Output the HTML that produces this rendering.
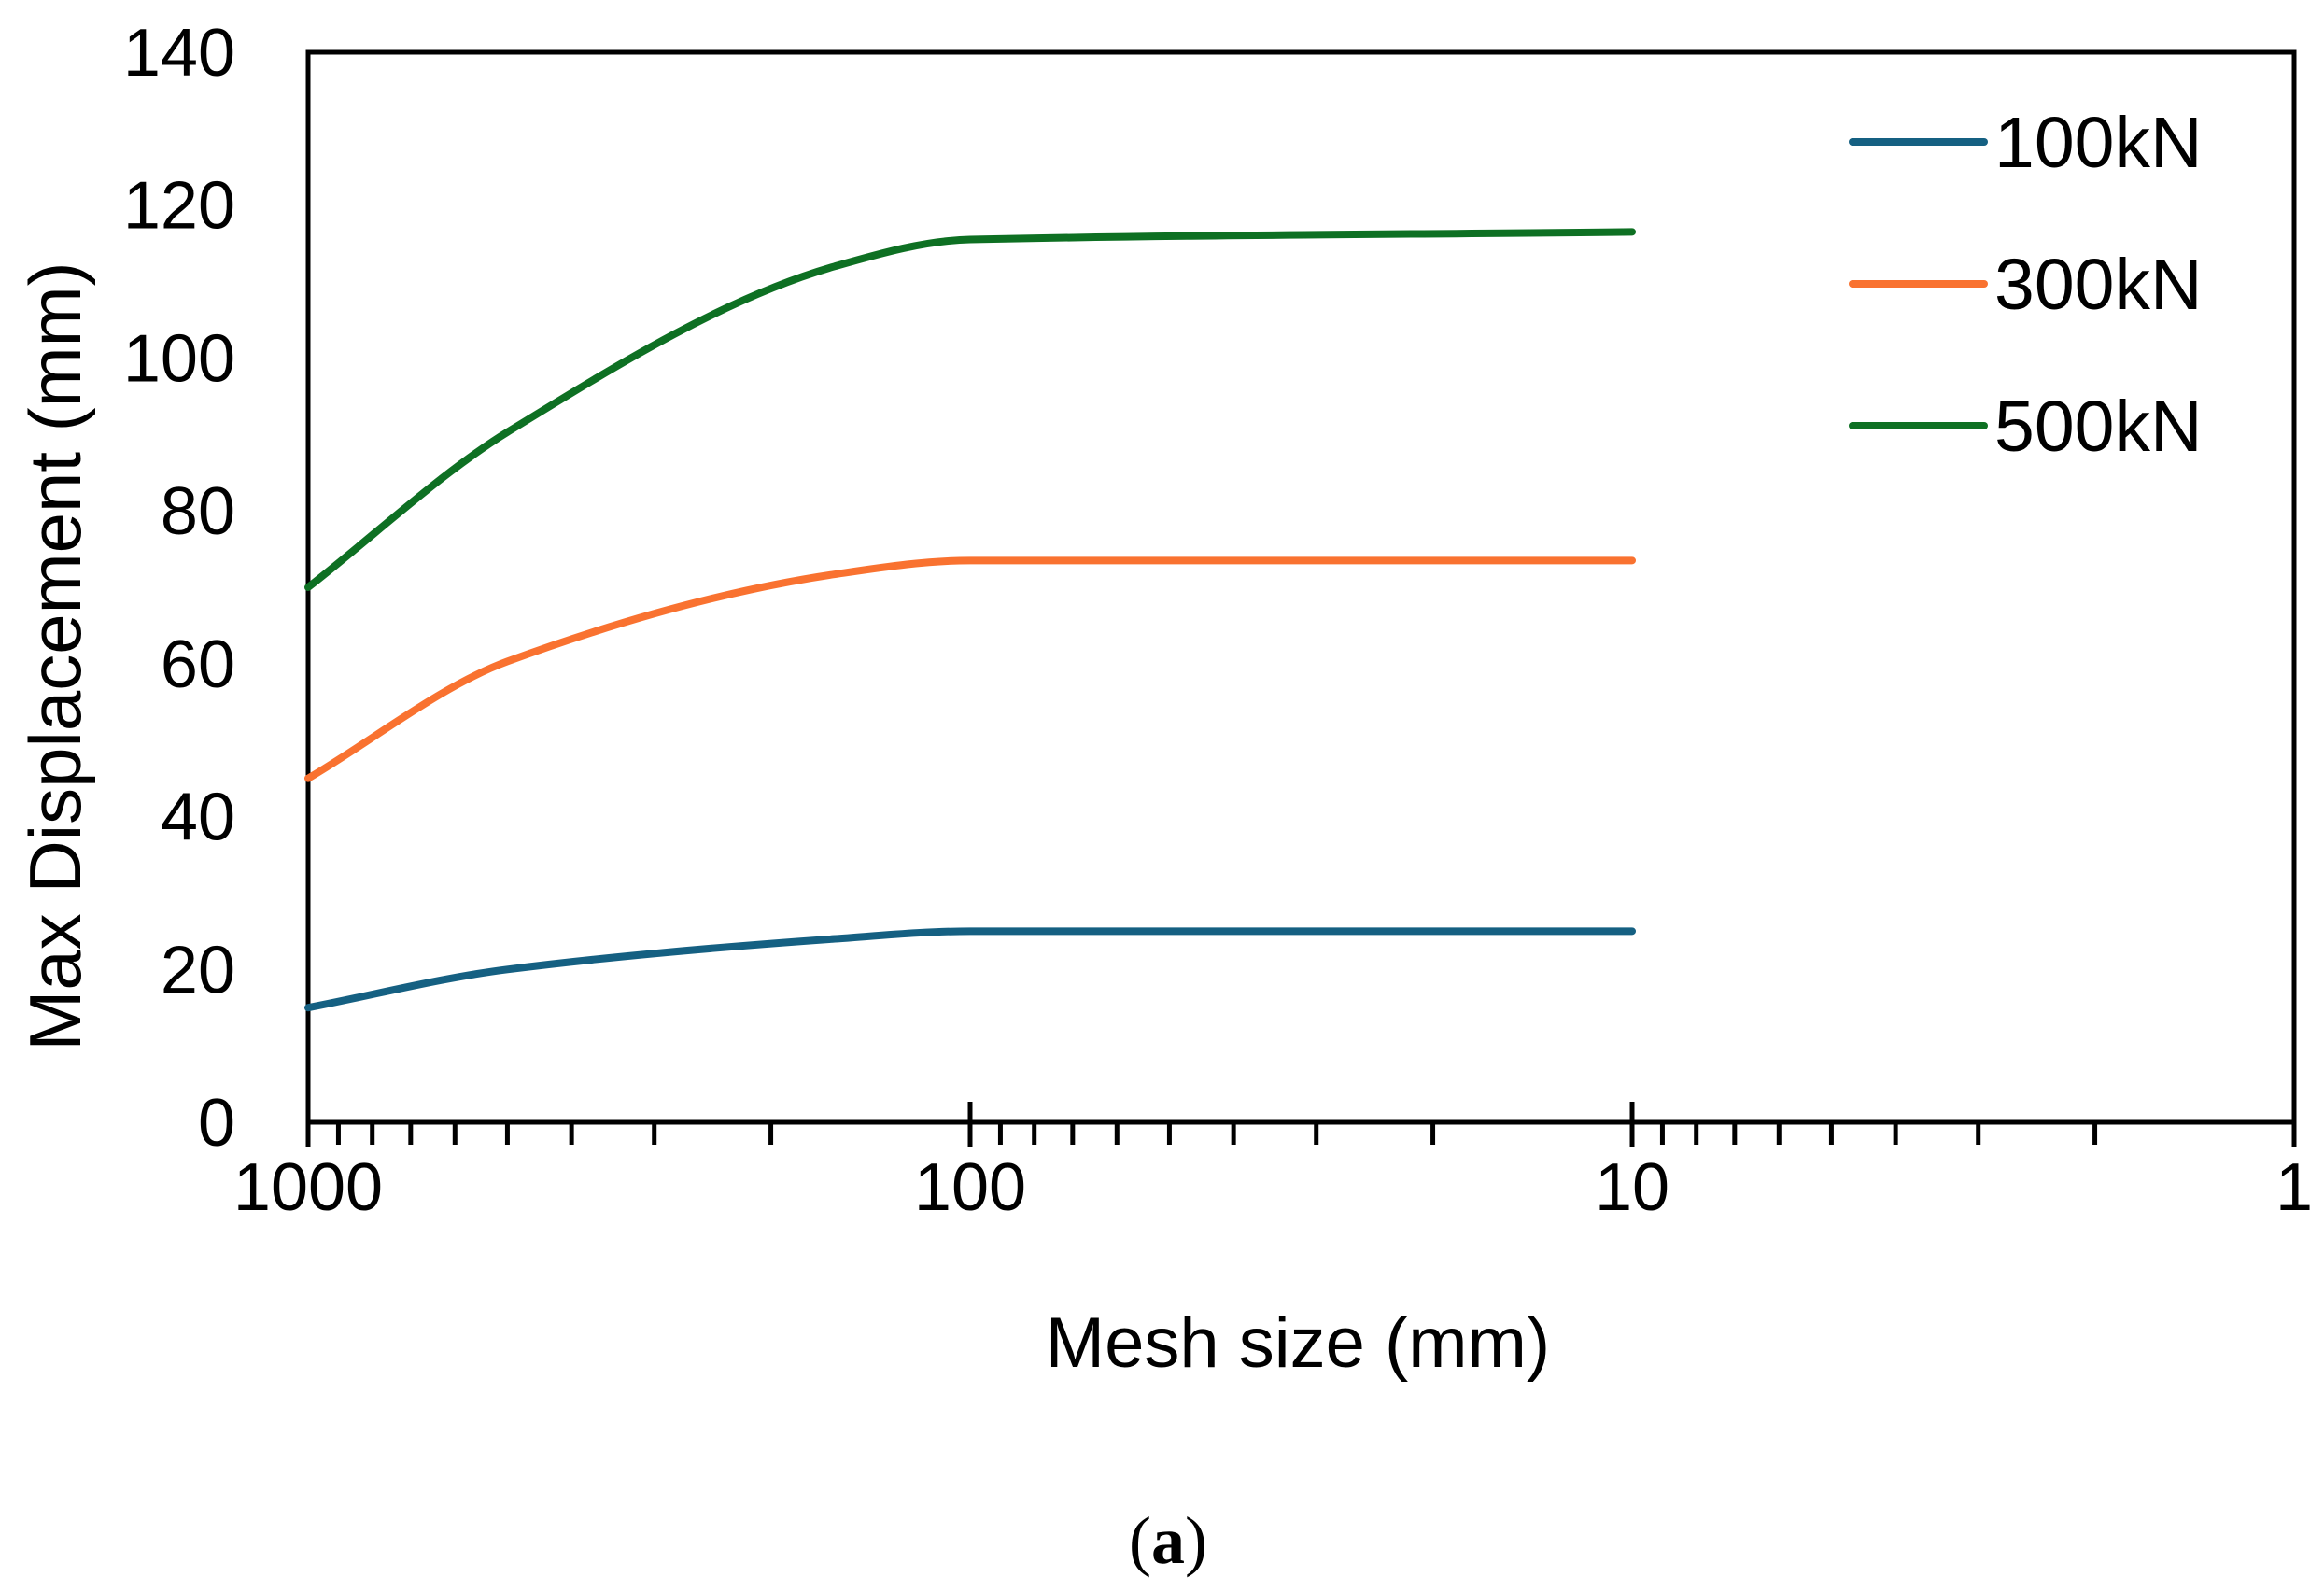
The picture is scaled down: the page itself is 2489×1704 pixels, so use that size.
<!DOCTYPE html>
<html><head><meta charset="utf-8"><style>
html,body{margin:0;padding:0;background:#fff;}
svg{display:block;font-family:"Liberation Sans",sans-serif;}
</style></head><body>
<svg id="chart" width="2489" height="1704" viewBox="0 0 2489 1704"></svg>
<script>
const xValues = [1000, 500, 160, 100, 10];
const series100 = [15, 20, 24, 25, 25];
const series300 = [45, 60.3, 71.7, 73.5, 73.5];
const series500 = [70, 90.3, 112, 115.5, 116.5];
const yTicks = [0, 20, 40, 60, 80, 100, 120, 140];
const xTicks = [1000, 100, 10, 1];
const seriesNames = ["100kN", "300kN", "500kN"];

const NS = "http://www.w3.org/2000/svg";
const svg = document.getElementById("chart");
const L = 330, R = 2457, T = 56, B = 1202;
const X = v => L + (3 - Math.log10(v)) / 3 * (R - L);
const Y = v => B - v / 140 * (B - T);
function mk(tag, attrs, parent) {
  const e = document.createElementNS(NS, tag);
  for (const k in attrs) e.setAttribute(k, attrs[k]);
  (parent || svg).appendChild(e);
  return e;
}
const frame = mk("rect", {x: L, y: T, width: R - L, height: B - T, fill: "none", stroke: "#000", "stroke-width": 5});


yTicks.forEach(v => {
  const t = mk("text", {x: 252, y: Y(v) + 25, "text-anchor": "end", "font-size": 72, fill: "#000"});
  t.textContent = v;
  
  
});
xTicks.forEach(v => {
  const t = mk("text", {x: X(v), y: 1296, "text-anchor": "middle", "font-size": 72, fill: "#000"});
  t.textContent = v;
  
  
  const tk = mk("line", {x1: X(v), x2: X(v), y1: B - 22, y2: B + 26, stroke: "#000", "stroke-width": 5});
  
  
});
[100, 10, 1].forEach(d => {
  for (let m = 2; m <= 9; m++) {
    const v = d * m;
    const tk = mk("line", {x1: X(v), x2: X(v), y1: B, y2: B + 24, stroke: "#000", "stroke-width": 5});
    
    
  }
});
function smoothPath(xs, ys) {
  const p = xs.map((x, i) => [X(x), Y(ys[i])]);
  const n = p.length, d = [], m = [];
  for (let i = 0; i < n - 1; i++) d.push((p[i + 1][1] - p[i][1]) / (p[i + 1][0] - p[i][0]));
  m[0] = d[0]; m[n - 1] = d[n - 2];
  for (let i = 1; i < n - 1; i++) m[i] = (d[i - 1] * d[i] <= 0) ? 0 : 2 / (1 / d[i - 1] + 1 / d[i]);
  let s = "M" + p[0][0] + "," + p[0][1];
  for (let i = 0; i < n - 1; i++) {
    const h = p[i + 1][0] - p[i][0];
    s += " C" + (p[i][0] + h / 3) + "," + (p[i][1] + m[i] * h / 3) + " " +
      (p[i + 1][0] - h / 3) + "," + (p[i + 1][1] - m[i + 1] * h / 3) + " " + p[i + 1][0] + "," + p[i + 1][1];
  }
  return s;
}
const colors = ["#156082", "#f97230", "#0e7023"];
[series100, series300, series500].forEach((s, i) => {
  const path = mk("path", {d: smoothPath(xValues, s), fill: "none", stroke: colors[i], "stroke-width": 8, "stroke-linecap": "round"});
  
  
  const ly = 152 + i * 152;
  const ll = mk("line", {x1: 1984, x2: 2125, y1: ly, y2: ly, stroke: colors[i], "stroke-width": 8, "stroke-linecap": "round"});
  
  
  const lt = mk("text", {x: 2136, y: ly + 27, "font-size": 77, fill: "#000"});
  lt.textContent = seriesNames[i];
  
  
});
const xt = mk("text", {x: 1390, y: 1464, "text-anchor": "middle", "font-size": 76, fill: "#000"});
xt.textContent = "Mesh size (mm)";


const yt = mk("text", {x: 0, y: 0, "text-anchor": "middle", "font-size": 78, fill: "#000", transform: "translate(86,703) rotate(-90)"});
yt.textContent = "Max Displacement (mm)";


const cap = mk("text", {x: 1251, y: 1674, "text-anchor": "middle", "font-size": 72, fill: "#000", "font-family": "Liberation Serif, serif"});
cap.innerHTML = '(<tspan font-weight="bold">a</tspan>)';


</script>
</body></html>
